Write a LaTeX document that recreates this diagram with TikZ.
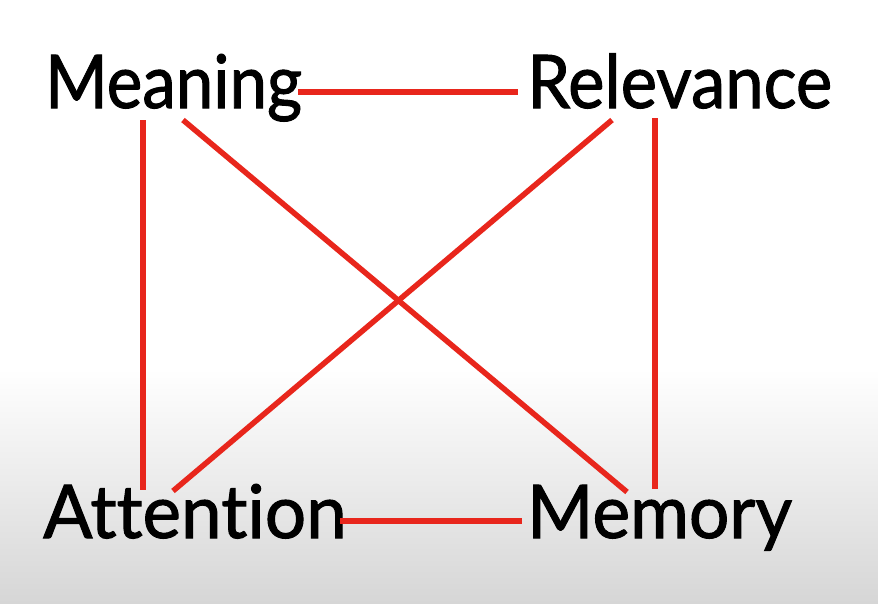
\documentclass[tikz,border=0pt]{standalone}
\usepackage{fontspec}
\setmainfont{Lato}
\newfontfamily\wordfont{Lato}[FakeBold=1.4, Ligatures={NoCommon,NoRare}]
\definecolor{linered}{HTML}{E8261C}
\definecolor{bgbottom}{HTML}{D6D6D6}
\newcommand{\nodeword}[2]{\scalebox{#1}[1]{#2}}
\tikzset{
  word/.style={anchor=base west, inner sep=0pt, font=\wordfont\fontsize{74}{80}\selectfont, text=black},
  link/.style={draw=linered, line width=5.5pt}
}
\begin{document}
\begin{tikzpicture}[x=1pt,y=-1pt]
\useasboundingbox (0,0) rectangle (878,603);
\fill[white] (0,0) rectangle (878,370);
\shade[top color=white, bottom color=bgbottom] (0,369) rectangle (878,603);
\node[word] (meaning) at (45,108) {\nodeword{0.91}{Meaning}};
\node[word] (relevance) at (527,108) {\nodeword{0.93}{Relevance}};
\node[word] (attention) at (43,538) {\nodeword{0.985}{Attention}};
\node[word] (memory) at (527,538) {\nodeword{0.965}{Memory}};
\draw[link] ([shift={(253,-16)}]meaning.base west) -- ([shift={(-9,-16)}]relevance.base west);
\draw[link] ([shift={(98,12)}]meaning.base west) -- ([shift={(100,-48)}]attention.base west);
\draw[link] ([shift={(138,12)}]meaning.base west) -- ([shift={(100,-46)}]memory.base west);
\draw[link] ([shift={(85,12)}]relevance.base west) -- ([shift={(130,-47)}]attention.base west);
\draw[link] ([shift={(128,10)}]relevance.base west) -- ([shift={(128,-49)}]memory.base west);
\draw[link] ([shift={(297,-17)}]attention.base west) -- ([shift={(-5,-17)}]memory.base west);
\end{tikzpicture}
\end{document}
